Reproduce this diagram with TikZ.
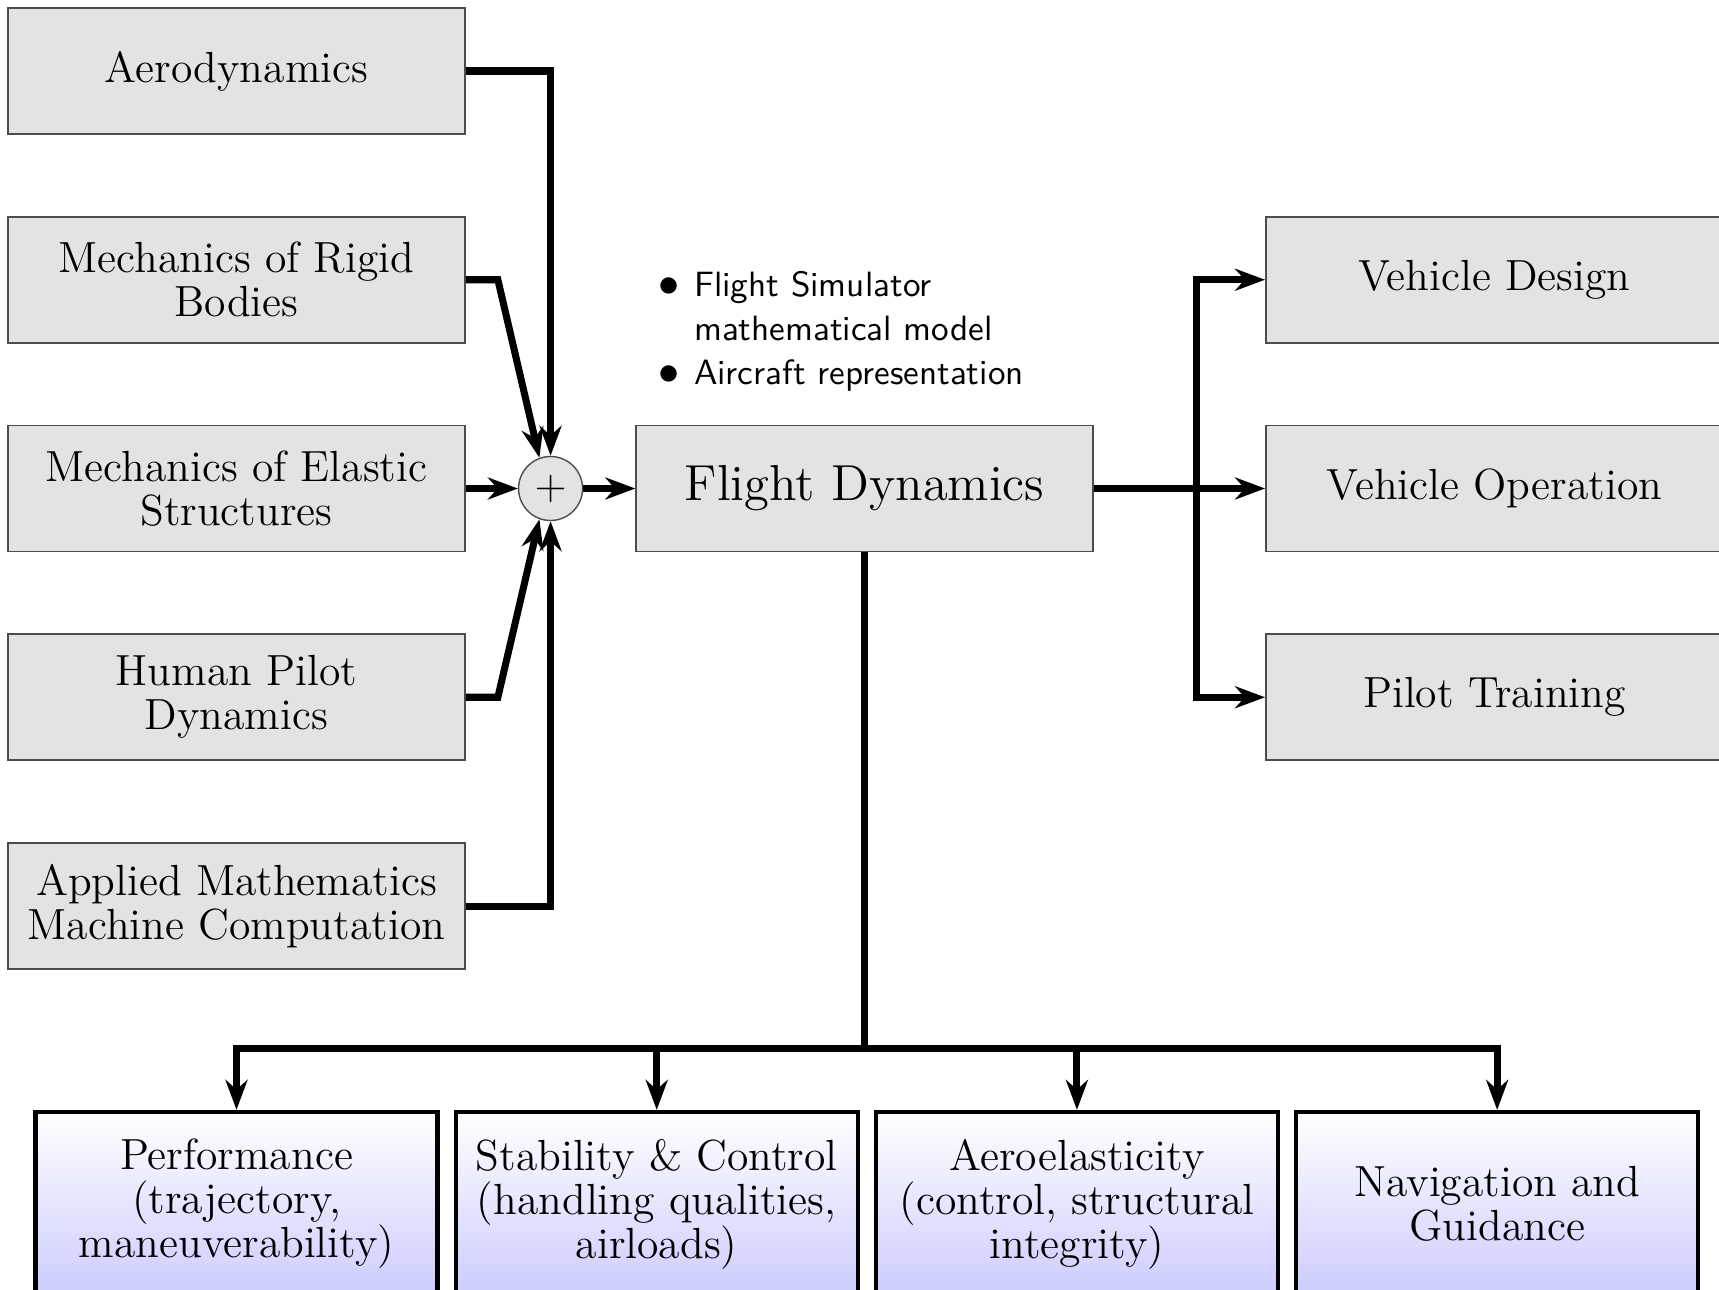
\documentclass[tikz,border=0pt]{standalone}
\usepackage{fontspec}
\usetikzlibrary{positioning,arrows.meta}

\begin{document}
\begin{tikzpicture}[node distance=0.81cm,
			>={Stealth[length=3mm,width=2.2mm]},
			block/.style={
				draw=black!70,
				fill=black!11,
				line width=0.5pt,
				align=center,
				minimum width=4.57cm,
				minimum height=1.26cm,
				font={\fontsize{12.4}{12.5}\selectfont}
			},
			topic/.style={
				draw=black,
				line width=1.2pt,
				top color=white,
				bottom color=blue!20,
				align=center,
				minimum width=4.02cm,
				minimum height=1.84cm,
				font={\fontsize{12.4}{12.5}\selectfont}
			},
			sumdot/.style={circle,draw=black!70,fill=black!11,minimum size=0.64cm,inner sep=0pt,font={\fontsize{12}{14}\selectfont}},
			link/.style={line width=2pt}]
			
			\useasboundingbox (0,0) rectangle (17.19,12.90);
			
			\node[block](aero) at (2.365,12.19){Aerodynamics};
			
			\node[block](rigid)[below=of aero]{Mechanics of Rigid\\Bodies};
			
			\node[block](elastic)[below=of rigid]{Mechanics of Elastic\\Structures};
			
			\node[block](pilot)[below=of elastic]{Human Pilot\\Dynamics};
			
			\node[block](applied)[below=of pilot]{Applied Mathematics\\Machine Computation};
			
			\node[sumdot](sum)[right=0.52cm of elastic]{$+$};
			
			\node[block,font={\fontsize{14.4}{16}\selectfont}](fd)[right=0.52cm of sum]{Flight Dynamics};
			
			\node(notes)[above right=0.26cm and 0.23cm of fd.north west,inner sep=0pt,font={\fontsize{10}{12.6}\selectfont\sffamily}]{\begin{tabular}{@{}c@{\hspace{4pt}}l@{}}
					{\fontsize{13}{12}\selectfont$\bullet$} & Flight Simulator\\
					& mathematical model\\
					{\fontsize{13}{12}\selectfont$\bullet$} & Aircraft representation
			\end{tabular}};
			
			\node[block](operation)[right=1.71cm of fd]{Vehicle Operation};
			
			\node[block](design)[above=of operation]{Vehicle Design};
			
			\node[block](training)[below=of operation]{Pilot Training};
			
			\node[topic](perf)[below=1.40cm of applied]{Performance\\(trajectory,\\maneuverability)};
			
			\node[topic](stab)[right=0.14cm of perf]{Stability \& Control\\(handling qualities,\\airloads)};
			
			\node[topic](aeroel)[right=0.14cm of stab]{Aeroelasticity\\(control, structural\\integrity)};
			
			\node[topic](nav)[right=0.14cm of aeroel]{Navigation and\\Guidance};
			
			\draw[link,->](aero.east) -| (sum.north);
			
			\draw[link,->](rigid.east) -- ++(0.32,0) -- (sum.110);
			
			\draw[link,->](elastic) -- (sum);
			
			\draw[link,->](pilot.east) -- ++(0.32,0) -- (sum.250);
			
			\draw[link,->](applied.east) -| (sum.south);
			
			\draw[link,->](sum) -- (fd);
			
			\draw[link,->](fd) -- (operation);
			
			\draw[link](fd.east) -- ++(1.02,0) coordinate(split);
			
			\draw[link,->](split) |- (design);
			
			\draw[link,->](split) |- (training);
			
			\draw[link](fd.south) -- ++(0,-4.96) coordinate(bus);
			
			\draw[link,->](bus) -| (perf);
			
			\draw[link,->](bus) -| (stab);
			
			\draw[link,->](bus) -| (aeroel);
			
			\draw[link,->](bus) -| (nav);
			
		\end{tikzpicture}
\end{document}
